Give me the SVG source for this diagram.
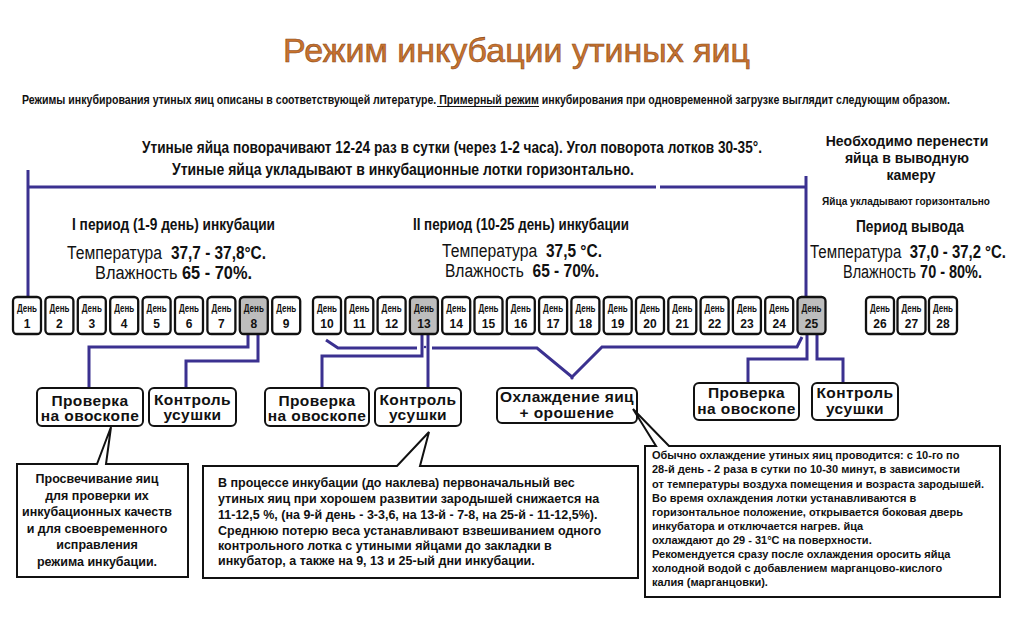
<svg xmlns="http://www.w3.org/2000/svg" width="1024" height="620" viewBox="0 0 1024 620">
<style>
text{font-family:"Liberation Sans",Arial,sans-serif;fill:#111}
.b{font-weight:bold}
.title{font-size:34px;fill:#c8732e;stroke:#8a4a1c;stroke-width:0.6}
.hd{font-size:17px;font-weight:bold}
.day{fill:#fff;stroke:#111;stroke-width:2.3}
.dayg{fill:#bdbdbd;stroke:#111;stroke-width:2.3}
.dt{font-size:11px;font-weight:bold;text-anchor:middle}
.dn{font-size:12px;font-weight:bold;text-anchor:middle}
.lbl{fill:#fff;stroke:#111;stroke-width:2}
.lt{font-size:15.5px;font-weight:bold;text-anchor:middle;letter-spacing:0.4px}
.co{fill:#fff;stroke:#111;stroke-width:2;stroke-linejoin:miter}
.ct{font-size:12.5px;font-weight:bold}
.cs{font-size:11px;font-weight:bold}
.ln{fill:none;stroke:#3b3190;stroke-width:3;stroke-linejoin:miter}
</style>

<text class="title" x="283" y="62" textLength="467" lengthAdjust="spacingAndGlyphs">Режим инкубации утиных яиц</text>
<text class="b" x="22" y="104" font-size="10.5" transform="matrix(1 0 0 1.143 0 -14.86)" textLength="928" lengthAdjust="spacingAndGlyphs">Режимы инкубирования утиных яиц описаны в соответствующей литературе. Примерный режим инкубирования при одновременной загрузке выглядит следующим образом.</text>
<line x1="437" y1="106.5" x2="539" y2="106.5" stroke="#111" stroke-width="1"/>

<text class="b" x="142" y="153" font-size="13" transform="matrix(1 0 0 1.308 0 -47.1)" textLength="620" lengthAdjust="spacingAndGlyphs">Утиные яйца поворачивают 12-24 раз в сутки (через 1-2 часа). Угол поворота лотков 30-35°.</text>
<text class="hd" x="172" y="175" textLength="462" lengthAdjust="spacingAndGlyphs">Утиные яйца укладывают в инкубационные лотки горизонтально.</text>

<g id="period1">
<text class="hd" x="72" y="230" textLength="203" lengthAdjust="spacingAndGlyphs">I период (1-9 день) инкубации</text>
<text x="67" y="259" font-size="14.9" transform="matrix(1 0 0 1.275 0 -71.2)" textLength="95" lengthAdjust="spacingAndGlyphs">Температура</text>
<text class="b" x="171" y="259" font-size="14.8" transform="matrix(1 0 0 1.284 0 -73.5)" textLength="95" lengthAdjust="spacingAndGlyphs">37,7 - 37,8°С.</text>
<text x="95" y="279" font-size="15.6" transform="matrix(1 0 0 1.218 0 -60.8)" textLength="82.6" lengthAdjust="spacingAndGlyphs">Влажность</text>
<text class="b" x="182" y="279" font-size="15.6" transform="matrix(1 0 0 1.218 0 -60.8)" textLength="70" lengthAdjust="spacingAndGlyphs">65 - 70%.</text>
</g>
<g id="period2">
<text class="hd" x="413" y="230" textLength="216" lengthAdjust="spacingAndGlyphs">II период (10-25 день) инкубации</text>
<text x="442" y="257" font-size="14.9" transform="matrix(1 0 0 1.275 0 -70.7)" textLength="95.2" lengthAdjust="spacingAndGlyphs">Температура</text>
<text class="b" x="546" y="257" font-size="14.9" transform="matrix(1 0 0 1.275 0 -70.7)" textLength="56" lengthAdjust="spacingAndGlyphs">37,5 °С.</text>
<text x="445" y="277" font-size="14.9" transform="matrix(1 0 0 1.275 0 -76.2)" textLength="78.8" lengthAdjust="spacingAndGlyphs">Влажность</text>
<text class="b" x="532.5" y="277" font-size="14.9" transform="matrix(1 0 0 1.275 0 -76.2)" textLength="66.5" lengthAdjust="spacingAndGlyphs">65 - 70%.</text>
</g>
<g id="period3">
<text class="b" x="907" y="146" font-size="14" text-anchor="middle">Необходимо перенести</text>
<text class="b" x="907" y="163" font-size="14" text-anchor="middle">яйца в выводную</text>
<text class="b" x="911" y="180" font-size="14" text-anchor="middle">камеру</text>
<text class="b" x="906" y="205" font-size="11" text-anchor="middle" textLength="168" lengthAdjust="spacingAndGlyphs">Яйца укладывают горизонтально</text>
<text class="hd" x="910" y="232" text-anchor="middle" textLength="108" lengthAdjust="spacingAndGlyphs">Период вывода</text>
<text x="810" y="258" font-size="14.3" transform="matrix(1 0 0 1.329 0 -84.9)" textLength="91.4" lengthAdjust="spacingAndGlyphs">Температура</text>
<text class="b" x="909.7" y="258" font-size="14.3" transform="matrix(1 0 0 1.329 0 -84.9)" textLength="96.3" lengthAdjust="spacingAndGlyphs">37,0 - 37,2 °С.</text>
<text x="843" y="278" font-size="13.9" transform="matrix(1 0 0 1.367 0 -102)" textLength="73.1" lengthAdjust="spacingAndGlyphs">Влажность</text>
<text class="b" x="920.1" y="278" font-size="13.9" transform="matrix(1 0 0 1.367 0 -102)" textLength="61.9" lengthAdjust="spacingAndGlyphs">70 - 80%.</text>
</g>

<g id="connectors">
<path class="ln" d="M28 170 V297"/>
<path class="ln" d="M28 187 H656 M660 187 H806"/>
<path class="ln" d="M806 176 V297"/>
<path class="ln" d="M248 334 V347 H89 V388"/>
<path class="ln" d="M258 334 V361 H186 V388"/>
<path class="ln" d="M422 334 V356 H322 V388"/>
<path class="ln" d="M428 334 V388"/>
<path class="ln" d="M326 340 L338 348 H417 M432 348 H537 L572 377 L602 347 H797 L802 337"/>
<circle cx="425" cy="347" r="1.3" fill="#3b3190"/>
<circle cx="572" cy="378" r="1.6" fill="#3b3190"/>
<path class="ln" d="M807 334 V359 H748 V383"/>
<path class="ln" d="M817 334 V359 H843 V383"/>
</g>

<g id="days">
<g id="day1"><rect class="day" x="13" y="297" width="28" height="37" rx="4"/><text class="dt" x="27" y="312" textLength="20" lengthAdjust="spacingAndGlyphs">День</text><text class="dn" x="27" y="328">1</text></g>
<g id="day2"><rect class="day" x="45.4" y="297" width="28" height="37" rx="4"/><text class="dt" x="59.4" y="312" textLength="20" lengthAdjust="spacingAndGlyphs">День</text><text class="dn" x="59.4" y="328">2</text></g>
<g id="day3"><rect class="day" x="77.8" y="297" width="28" height="37" rx="4"/><text class="dt" x="91.8" y="312" textLength="20" lengthAdjust="spacingAndGlyphs">День</text><text class="dn" x="91.8" y="328">3</text></g>
<g id="day4"><rect class="day" x="110.2" y="297" width="28" height="37" rx="4"/><text class="dt" x="124.2" y="312" textLength="20" lengthAdjust="spacingAndGlyphs">День</text><text class="dn" x="124.2" y="328">4</text></g>
<g id="day5"><rect class="day" x="142.6" y="297" width="28" height="37" rx="4"/><text class="dt" x="156.6" y="312" textLength="20" lengthAdjust="spacingAndGlyphs">День</text><text class="dn" x="156.6" y="328">5</text></g>
<g id="day6"><rect class="day" x="175" y="297" width="28" height="37" rx="4"/><text class="dt" x="189" y="312" textLength="20" lengthAdjust="spacingAndGlyphs">День</text><text class="dn" x="189" y="328">6</text></g>
<g id="day7"><rect class="day" x="207.4" y="297" width="28" height="37" rx="4"/><text class="dt" x="221.4" y="312" textLength="20" lengthAdjust="spacingAndGlyphs">День</text><text class="dn" x="221.4" y="328">7</text></g>
<g id="day8"><rect class="dayg" x="239.8" y="297" width="28" height="37" rx="4"/><text class="dt" x="253.8" y="312" textLength="20" lengthAdjust="spacingAndGlyphs">День</text><text class="dn" x="253.8" y="328">8</text></g>
<g id="day9"><rect class="day" x="272.2" y="297" width="28" height="37" rx="4"/><text class="dt" x="286.2" y="312" textLength="20" lengthAdjust="spacingAndGlyphs">День</text><text class="dn" x="286.2" y="328">9</text></g>
<g id="day10"><rect class="day" x="313" y="297" width="28" height="37" rx="4"/><text class="dt" x="327" y="312" textLength="20" lengthAdjust="spacingAndGlyphs">День</text><text class="dn" x="327" y="328">10</text></g>
<g id="day11"><rect class="day" x="345.3" y="297" width="28" height="37" rx="4"/><text class="dt" x="359.3" y="312" textLength="20" lengthAdjust="spacingAndGlyphs">День</text><text class="dn" x="359.3" y="328">11</text></g>
<g id="day12"><rect class="day" x="377.6" y="297" width="28" height="37" rx="4"/><text class="dt" x="391.6" y="312" textLength="20" lengthAdjust="spacingAndGlyphs">День</text><text class="dn" x="391.6" y="328">12</text></g>
<g id="day13"><rect class="dayg" x="409.9" y="297" width="28" height="37" rx="4"/><text class="dt" x="423.9" y="312" textLength="20" lengthAdjust="spacingAndGlyphs">День</text><text class="dn" x="423.9" y="328">13</text></g>
<g id="day14"><rect class="day" x="442.2" y="297" width="28" height="37" rx="4"/><text class="dt" x="456.2" y="312" textLength="20" lengthAdjust="spacingAndGlyphs">День</text><text class="dn" x="456.2" y="328">14</text></g>
<g id="day15"><rect class="day" x="474.5" y="297" width="28" height="37" rx="4"/><text class="dt" x="488.5" y="312" textLength="20" lengthAdjust="spacingAndGlyphs">День</text><text class="dn" x="488.5" y="328">15</text></g>
<g id="day16"><rect class="day" x="506.8" y="297" width="28" height="37" rx="4"/><text class="dt" x="520.8" y="312" textLength="20" lengthAdjust="spacingAndGlyphs">День</text><text class="dn" x="520.8" y="328">16</text></g>
<g id="day17"><rect class="day" x="539.1" y="297" width="28" height="37" rx="4"/><text class="dt" x="553.1" y="312" textLength="20" lengthAdjust="spacingAndGlyphs">День</text><text class="dn" x="553.1" y="328">17</text></g>
<g id="day18"><rect class="day" x="571.4" y="297" width="28" height="37" rx="4"/><text class="dt" x="585.4" y="312" textLength="20" lengthAdjust="spacingAndGlyphs">День</text><text class="dn" x="585.4" y="328">18</text></g>
<g id="day19"><rect class="day" x="603.7" y="297" width="28" height="37" rx="4"/><text class="dt" x="617.7" y="312" textLength="20" lengthAdjust="spacingAndGlyphs">День</text><text class="dn" x="617.7" y="328">19</text></g>
<g id="day20"><rect class="day" x="636" y="297" width="28" height="37" rx="4"/><text class="dt" x="650" y="312" textLength="20" lengthAdjust="spacingAndGlyphs">День</text><text class="dn" x="650" y="328">20</text></g>
<g id="day21"><rect class="day" x="668.3" y="297" width="28" height="37" rx="4"/><text class="dt" x="682.3" y="312" textLength="20" lengthAdjust="spacingAndGlyphs">День</text><text class="dn" x="682.3" y="328">21</text></g>
<g id="day22"><rect class="day" x="700.6" y="297" width="28" height="37" rx="4"/><text class="dt" x="714.6" y="312" textLength="20" lengthAdjust="spacingAndGlyphs">День</text><text class="dn" x="714.6" y="328">22</text></g>
<g id="day23"><rect class="day" x="732.9" y="297" width="28" height="37" rx="4"/><text class="dt" x="746.9" y="312" textLength="20" lengthAdjust="spacingAndGlyphs">День</text><text class="dn" x="746.9" y="328">23</text></g>
<g id="day24"><rect class="day" x="765.2" y="297" width="28" height="37" rx="4"/><text class="dt" x="779.2" y="312" textLength="20" lengthAdjust="spacingAndGlyphs">День</text><text class="dn" x="779.2" y="328">24</text></g>
<g id="day25"><rect class="dayg" x="797.5" y="297" width="28" height="37" rx="4"/><text class="dt" x="811.5" y="312" textLength="20" lengthAdjust="spacingAndGlyphs">День</text><text class="dn" x="811.5" y="328">25</text></g>
<g id="day26"><rect class="day" x="866" y="297" width="28" height="37" rx="4"/><text class="dt" x="880" y="312" textLength="20" lengthAdjust="spacingAndGlyphs">День</text><text class="dn" x="880" y="328">26</text></g>
<g id="day27"><rect class="day" x="897.5" y="297" width="28" height="37" rx="4"/><text class="dt" x="911.5" y="312" textLength="20" lengthAdjust="spacingAndGlyphs">День</text><text class="dn" x="911.5" y="328">27</text></g>
<g id="day28"><rect class="day" x="929" y="297" width="28" height="37" rx="4"/><text class="dt" x="943" y="312" textLength="20" lengthAdjust="spacingAndGlyphs">День</text><text class="dn" x="943" y="328">28</text></g>
</g>

<g id="check1"><rect class="lbl" x="37" y="388" width="106" height="38" rx="5"/><text class="lt" x="90" y="406">Проверка</text><text class="lt" x="90" y="421">на овоскопе</text></g>
<g id="dry1"><rect class="lbl" x="149" y="388" width="87" height="38" rx="5"/><text class="lt" x="192.5" y="405">Контроль</text><text class="lt" x="192.5" y="420">усушки</text></g>
<g id="check2"><rect class="lbl" x="265" y="388" width="104" height="38" rx="5"/><text class="lt" x="317" y="406">Проверка</text><text class="lt" x="317" y="421">на овоскопе</text></g>
<g id="dry2"><rect class="lbl" x="375" y="388" width="86" height="38" rx="5"/><text class="lt" x="418" y="405">Контроль</text><text class="lt" x="418" y="420">усушки</text></g>
<g id="cool"><rect class="lbl" x="497" y="388" width="140" height="35" rx="5"/><text class="lt" x="567" y="402">Охлаждение яиц</text><text class="lt" x="567" y="418">+ орошение</text></g>
<g id="check3"><rect class="lbl" x="694" y="383" width="105" height="37" rx="5"/><text class="lt" x="746.5" y="398">Проверка</text><text class="lt" x="746.5" y="414">на овоскопе</text></g>
<g id="dry3"><rect class="lbl" x="812" y="383" width="86" height="37" rx="5"/><text class="lt" x="855" y="398">Контроль</text><text class="lt" x="855" y="414">усушки</text></g>

<g id="note1">
<path class="co" d="M17 464 H97 L111 427 L106 464 H188 V577 H17 Z"/>
<text class="ct" text-anchor="middle" x="97" y="483">Просвечивание яиц</text>
<text class="ct" text-anchor="middle" x="97" y="500">для проверки их</text>
<text class="ct" text-anchor="middle" x="97" y="516">инкубационных качеств</text>
<text class="ct" text-anchor="middle" x="97" y="533">и для своевременного</text>
<text class="ct" text-anchor="middle" x="97" y="549">исправления</text>
<text class="ct" text-anchor="middle" x="97" y="566">режима инкубации.</text>
</g>

<g id="note2">
<path class="co" d="M203 466 H397 L429 432 L420 466 H638 V578 H203 Z"/>
<text class="ct" x="218" y="487">В процессе инкубации (до наклева) первоначальный вес</text>
<text class="ct" x="218" y="503">утиных яиц при хорошем развитии зародышей снижается на</text>
<text class="ct" x="218" y="519">11-12,5 %,  (на 9-й день - 3-3,6, на 13-й - 7-8, на 25-й - 11-12,5%).</text>
<text class="ct" x="218" y="535">Среднюю потерю веса устанавливают взвешиванием одного</text>
<text class="ct" x="218" y="550">контрольного лотка с утиными яйцами до закладки в</text>
<text class="ct" x="218" y="565">инкубатор, а также на 9, 13 и 25-ый дни инкубации.</text>
</g>

<g id="note3">
<path class="co" d="M645 446 H656 L633 409 L669 446 H1000 V597 H645 Z"/>
<text class="cs" x="652" y="459">Обычно охлаждение утиных яиц проводится: с 10-го по</text>
<text class="cs" x="652" y="473">28-й день - 2 раза в сутки по 10-30 минут, в зависимости</text>
<text class="cs" x="652" y="488">от температуры воздуха помещения и возраста зародышей.</text>
<text class="cs" x="652" y="502">Во время охлаждения лотки устанавливаются в</text>
<text class="cs" x="652" y="516">горизонтальное положение, открывается боковая дверь</text>
<text class="cs" x="652" y="530">инкубатора и отключается нагрев. йца</text>
<text class="cs" x="652" y="544">охлаждают до 29 - 31°С на поверхности.</text>
<text class="cs" x="652" y="558">Рекомендуется сразу после охлаждения оросить яйца</text>
<text class="cs" x="652" y="572">холодной водой с добавлением марганцово-кислого</text>
<text class="cs" x="652" y="586">калия (марганцовки).</text>
</g>
</svg>
